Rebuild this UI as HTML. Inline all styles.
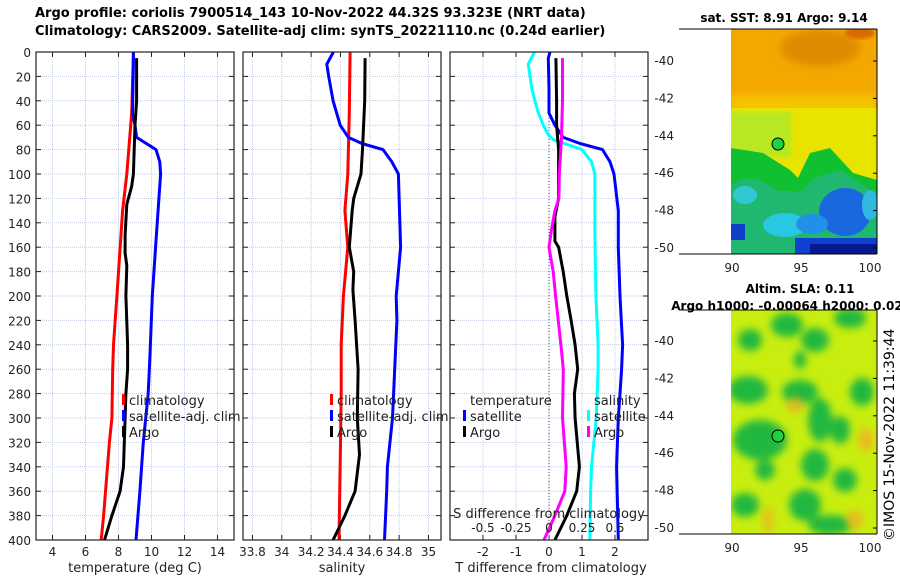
<!DOCTYPE html>
<html><head><meta charset="utf-8"><style>
html,body{margin:0;padding:0;background:#fff;}
svg{display:block;font-family:"DejaVu Sans","Liberation Sans",sans-serif;}
</style></head><body>
<svg id="fig" width="900" height="580" viewBox="0 0 900 580" xmlns="http://www.w3.org/2000/svg">
<defs>
<filter id="blur4" x="-20%" y="-20%" width="140%" height="140%"><feGaussianBlur stdDeviation="4"/></filter>
<filter id="blur2"><feGaussianBlur stdDeviation="1.5"/></filter>
<clipPath id="clipSST"><rect x="731" y="29" width="146" height="225"/></clipPath>
<clipPath id="clipSLA"><rect x="731" y="310" width="146" height="224"/></clipPath>
</defs>
<text x="35" y="17" font-size="13" font-weight="bold">Argo profile: coriolis 7900514_143 10-Nov-2022 44.32S 93.323E (NRT data)</text>
<text x="35" y="35" font-size="13" font-weight="bold">Climatology: CARS2009. Satellite-adj clim: synTS_20221110.nc (0.24d earlier)</text>

<g id="p1"></g>
<g id="p2"></g>
<g id="p3"></g>

<!-- SST map -->
<g>
<text x="784" y="22" font-size="12" font-weight="bold" text-anchor="middle">sat. SST: 8.91 Argo: 9.14</text>
<g clip-path="url(#clipSST)">
<rect x="731" y="29" width="146" height="225" fill="#f3a800"/>
<ellipse cx="820" cy="48" rx="40" ry="18" fill="#e08a00" filter="url(#blur4)"/>
<ellipse cx="860" cy="33" rx="15" ry="6" fill="#d86a00" filter="url(#blur2)"/>
<rect x="731" y="95" width="146" height="20" fill="#f5c400" filter="url(#blur4)"/>
<rect x="731" y="108" width="146" height="150" fill="#e8e400"/>
<rect x="731" y="112" width="60" height="45" fill="#b8e820" filter="url(#blur2)"/>
<path d="M731,148 L763,153 L790,170 L798,178 L810,153 L830,148 L853,173 L877,180 L877,254 L731,254 Z" fill="#10c030"/>
<path d="M731,185 Q755,170 775,190 L800,192 L815,178 L840,170 L870,190 L877,192 L877,254 L731,254 Z" fill="#20b870"/>
<ellipse cx="745" cy="195" rx="12" ry="9" fill="#30c8d0"/>
<ellipse cx="785" cy="225" rx="22" ry="12" fill="#28c8e0"/>
<ellipse cx="845" cy="212" rx="26" ry="24" fill="#1a68e0"/>
<ellipse cx="870" cy="205" rx="8" ry="15" fill="#30b8e0"/>
<ellipse cx="812" cy="224" rx="16" ry="10" fill="#2090e8"/>
<rect x="795" y="238" width="82" height="16" fill="#1040d0"/>
<rect x="810" y="244" width="67" height="10" fill="#081890"/>
<rect x="731" y="224" width="14" height="16" fill="#1040c8"/>
<circle cx="778" cy="144" r="6" fill="#20d040" stroke="#000" stroke-width="1"/>
</g>
<line x1="679" y1="254" x2="877" y2="254" stroke="#000"/>
<line x1="877" y1="29" x2="877" y2="254" stroke="#000"/>
<line x1="679" y1="29" x2="877" y2="29" stroke="#000"/>
<g id="sstTicks"></g>
</g>

<!-- SLA map -->
<g>
<text x="800" y="293" font-size="12" font-weight="bold" text-anchor="middle">Altim. SLA: 0.11</text>
<text x="787" y="310" font-size="12" font-weight="bold" text-anchor="middle">Argo h1000: -0.00064 h2000: 0.02</text>
<g clip-path="url(#clipSLA)">
<rect x="731" y="310" width="146" height="224" fill="#c8ee10"/>
<g fill="#20b840" filter="url(#blur4)">
<ellipse cx="787" cy="325" rx="16" ry="12"/><ellipse cx="850" cy="318" rx="16" ry="10"/>
<ellipse cx="750" cy="340" rx="12" ry="11"/><ellipse cx="815" cy="340" rx="14" ry="12"/>
<ellipse cx="748" cy="390" rx="20" ry="14"/><ellipse cx="800" cy="392" rx="18" ry="12"/>
<ellipse cx="862" cy="392" rx="12" ry="14"/><ellipse cx="820" cy="420" rx="12" ry="22"/>
<ellipse cx="760" cy="440" rx="27" ry="20"/><ellipse cx="815" cy="465" rx="14" ry="16"/>
<ellipse cx="840" cy="430" rx="10" ry="14"/><ellipse cx="845" cy="480" rx="12" ry="12"/>
<ellipse cx="745" cy="505" rx="14" ry="12"/><ellipse cx="805" cy="505" rx="16" ry="16"/>
<ellipse cx="830" cy="525" rx="22" ry="10"/><ellipse cx="800" cy="360" rx="6" ry="9"/>
<ellipse cx="765" cy="470" rx="10" ry="10"/>
</g>
<g fill="#f0b020" filter="url(#blur4)" opacity="0.8">
<ellipse cx="866" cy="440" rx="8" ry="12"/><ellipse cx="768" cy="520" rx="5" ry="14"/>
<ellipse cx="795" cy="405" rx="8" ry="8"/><ellipse cx="855" cy="520" rx="8" ry="10"/>
</g>
<circle cx="778" cy="436" r="6" fill="#20d040" stroke="#000" stroke-width="1"/>
</g>
<line x1="679" y1="534" x2="877" y2="534" stroke="#000"/>
<line x1="877" y1="310" x2="877" y2="534" stroke="#000"/>
<line x1="679" y1="310" x2="877" y2="310" stroke="#000"/>
<g id="slaTicks"></g>
</g>
<text transform="translate(894,541) rotate(-90)" font-size="14">©IMOS 15-Nov-2022 11:39:44</text>
</svg>
<script>
// ---- data ----
const depthTicks = [0,20,40,60,80,100,120,140,160,180,200,220,240,260,280,300,320,340,360,380,400];
const tempTicks = [4,6,8,10,12,14];
const salTicks = [33.8,34,34.2,34.4,34.6,34.8,35];
const salTickLabels = ["33.8","34","34.2","34.4","34.6","34.8","35"];
const diffTTicks = [-2,-1,0,1,2];
const diffSTicks = [-0.5,-0.25,0,0.25,0.5];
const diffSTickLabels = ["-0.5","-0.25","0","0.25","0.5"];

const tClimDepth = [0,50,100,130,200,240,260,300,320,380,400];
const tClimVal   = [8.9,8.8,8.5,8.25,7.9,7.7,7.65,7.6,7.45,7.1,6.95];
const tSatDepth = [0,10,50,60,70,80,90,100,150,200,250,280,320,360,400];
const tSatVal   = [8.9,8.9,8.85,9.0,9.1,10.27,10.5,10.55,10.3,10.05,9.9,9.8,9.5,9.3,9.06];
const tArgoDepth = [5,20,40,60,80,100,110,120,125,150,165,175,200,240,260,280,300,340,360,380,400];
const tArgoVal   = [9.1,9.1,9.1,9.0,8.95,8.9,8.8,8.6,8.5,8.4,8.4,8.5,8.45,8.55,8.55,8.45,8.4,8.3,8.1,7.6,7.15];

const sClimDepth = [0,50,100,130,160,200,240,280,320,400];
const sClimVal   = [34.466,34.46,34.45,34.43,34.45,34.42,34.405,34.405,34.4,34.39];
const sSatDepth = [0,10,20,40,60,70,75,80,90,100,160,200,220,260,300,340,360,400];
const sSatVal   = [34.352,34.307,34.32,34.35,34.398,34.454,34.546,34.69,34.75,34.795,34.81,34.78,34.785,34.77,34.755,34.72,34.715,34.7];
const sArgoDepth = [5,40,80,100,120,130,160,180,195,220,260,300,330,360,380,400];
const sArgoVal   = [34.568,34.565,34.55,34.54,34.49,34.48,34.46,34.49,34.485,34.5,34.52,34.515,34.53,34.5,34.43,34.35];

const dTSatDepth = [0,5,30,50,60,70,75,80,90,100,130,160,200,240,260,280,300,340,400];
const dTSatVal   = [0.03,-0.02,0,0,0.18,0.43,0.94,1.62,1.85,1.97,2.1,2.1,2.15,2.23,2.2,2.15,2.1,2.05,2.1];
const dTArgoDepth = [5,40,60,80,100,120,135,155,160,180,200,220,240,260,280,300,340,360,380,400];
const dTArgoVal   = [0.21,0.23,0.23,0.29,0.29,0.29,0.18,0.18,0.29,0.43,0.54,0.67,0.79,0.87,0.77,0.79,0.92,0.84,0.54,0.18];
const dSSatDepth = [0,10,30,40,50,60,68,72,80,90,100,150,200,240,260,300,340,360,400];
const dSSatVal   = [-0.11,-0.157,-0.13,-0.107,-0.08,-0.043,-0.005,0.033,0.25,0.322,0.348,0.348,0.355,0.372,0.372,0.358,0.322,0.315,0.31];
const dSArgoDepth = [5,40,70,100,120,130,145,160,180,200,240,260,300,340,360,380,400];
const dSArgoVal   = [0.102,0.102,0.095,0.078,0.075,0.045,0.02,0,0.032,0.05,0.09,0.108,0.102,0.13,0.12,0.045,-0.038];

const latTicks = [-40,-42,-44,-46,-48,-50];
const lonTicks = [90,95,100];

// ---- drawing ----
const NS = "http://www.w3.org/2000/svg";
function mk(tag, attrs, parent){const e=document.createElementNS(NS,tag);for(const k in attrs)e.setAttribute(k,attrs[k]);parent.appendChild(e);return e;}
const TOP=52, BOT=540;
const yD = d => TOP + (BOT-TOP)*d/400;

function panel(g, x0, x1, xmin, xmax, name){
  const xs = v => x0 + (x1-x0)*(v-xmin)/(xmax-xmin);
  depthTicks.forEach(d=>{
    const y=yD(d);
    const gl=mk('line',{x1:x0,x2:x1,y1:y,y2:y,stroke:'#c4cbe0','stroke-width':1,'stroke-dasharray':'1,1'},g);
    
    
    mk('line',{x1:x0,x2:x0+5,y1:y,y2:y,stroke:'#222'},g);
    mk('line',{x1:x1-5,x2:x1,y1:y,y2:y,stroke:'#222'},g);
  });
  return xs;
}
function xgrid(g, xs, ticks, labels){
  ticks.forEach((t,i)=>{
    const x=xs(t);
    const gl=mk('line',{x1:x,x2:x,y1:TOP,y2:BOT,stroke:'#c4cbe0','stroke-width':1,'stroke-dasharray':'1,1'},g);
    
    
    mk('line',{x1:x,x2:x,y1:BOT-5,y2:BOT,stroke:'#222'},g);
    mk('line',{x1:x,x2:x,y1:TOP,y2:TOP+5,stroke:'#222'},g);
    const tx=mk('text',{x:x,y:BOT+16,'font-size':12,'text-anchor':'middle',fill:'#222'},g);
    tx.textContent = labels ? labels[i] : String(t);
    
    
  });
}
function frame(g,x0,x1){ mk('rect',{x:x0,y:TOP,width:x1-x0,height:BOT-TOP,fill:'none',stroke:'#222','stroke-width':1.2},g); }
function line(g, xs, depths, vals, color, name, scale){
  const pts = depths.map((d,i)=> xs(vals[i]*(scale||1)).toFixed(1)+','+yD(d).toFixed(1)).join(' ');
  const p=mk('polyline',{points:pts,fill:'none',stroke:color,'stroke-width':3,'stroke-linejoin':'round'},g);
  
  
}
function legend(g, x, y, items){
  items.forEach((it,i)=>{
    const yy=y+i*16;
    if(it[0]) mk('rect',{x:x,y:yy-6,width:3,height:11,fill:it[0]},g);
    const t=mk('text',{x:x+7,y:yy+5,'font-size':13,fill:'#222'},g);
    t.textContent=it[1];
    
    
  });
}

// panel 1
const g1=document.getElementById('p1');
mk('rect',{x:36,y:TOP,width:198,height:BOT-TOP,fill:'#fff'},g1);
const xs1=panel(g1,36,234,3,15,'temperature');
xgrid(g1,xs1,tempTicks);
depthTicks.forEach(d=>{
  const t=mk('text',{x:31,y:yD(d)+5,'font-size':12,'text-anchor':'end',fill:'#222'},g1);
  t.textContent=String(d);
  
  
});
line(g1,xs1,tClimDepth,tClimVal,'#ff0000','temp-climatology-line');
line(g1,xs1,tSatDepth,tSatVal,'#0000ff','temp-satellite-line');
line(g1,xs1,tArgoDepth,tArgoVal,'#000','temp-argo-line');
frame(g1,36,234);
legend(g1,122,400,[['#ff0000','climatology'],['#0000ff','satellite-adj. clim'],['#000','Argo']]);
let t=mk('text',{x:135,y:572,'font-size':13,'text-anchor':'middle',fill:'#222'},g1);t.textContent='temperature (deg C)';



// panel 2
const g2=document.getElementById('p2');
const xs2=panel(g2,243,441,33.7355,35.0855,'salinity');
xgrid(g2,xs2,salTicks,salTickLabels);
line(g2,xs2,sClimDepth,sClimVal,'#ff0000','sal-climatology-line');
line(g2,xs2,sSatDepth,sSatVal,'#0000ff','sal-satellite-line');
line(g2,xs2,sArgoDepth,sArgoVal,'#000','sal-argo-line');
frame(g2,243,441);
legend(g2,330,400,[['#ff0000','climatology'],['#0000ff','satellite-adj. clim'],['#000','Argo']]);
t=mk('text',{x:342,y:572,'font-size':13,'text-anchor':'middle',fill:'#222'},g2);t.textContent='salinity';



// panel 3
const g3=document.getElementById('p3');
const xs3=panel(g3,450,648,-3,3,'difference');
xgrid(g3,xs3,diffTTicks);
mk('line',{x1:xs3(0),x2:xs3(0),y1:TOP,y2:BOT,stroke:'#555','stroke-dasharray':'1,2'},g3);
line(g3,xs3,dSSatDepth,dSSatVal,'#00ffff','sdiff-satellite-line',4);
line(g3,xs3,dTSatDepth,dTSatVal,'#0000ff','tdiff-satellite-line');
line(g3,xs3,dTArgoDepth,dTArgoVal,'#000','tdiff-argo-line');
line(g3,xs3,dSArgoDepth,dSArgoVal,'#ff00ff','sdiff-argo-line',4);
frame(g3,450,648);
legend(g3,463,400,[[null,'temperature'],['#0000ff','satellite'],['#000','Argo']]);
legend(g3,587,400,[[null,'salinity'],['#00ffff','satellite'],['#ff00ff','Argo']]);
t=mk('text',{x:549,y:518,'font-size':13,'text-anchor':'middle',fill:'#222'},g3);t.textContent='S difference from climatology';


diffSTicks.forEach((s,i)=>{
  const tt=mk('text',{x:xs3(s*4),y:532,'font-size':12,'text-anchor':'middle',fill:'#222'},g3);
  tt.textContent=diffSTickLabels[i];
  
  
});
t=mk('text',{x:551,y:572,'font-size':13,'text-anchor':'middle',fill:'#222'},g3);t.textContent='T difference from climatology';



// map ticks
function mapTicks(gid, latY0, bottom){
  const g=document.getElementById(gid);
  latTicks.forEach(l=>{
    const y=latY0 + (-40-l)*18.7;
    const tx=mk('text',{x:674,y:y+4,'font-size':12,'text-anchor':'end',fill:'#222'},g);
    tx.textContent=String(l);
    
    
    mk('line',{x1:873,x2:877,y1:y,y2:y,stroke:'#000'},g);
  });
  lonTicks.forEach(l=>{
    const x=732+(l-90)*13.8;
    const tx=mk('text',{x:x,y:bottom+18,'font-size':12,'text-anchor':'middle',fill:'#222'},g);
    tx.textContent=String(l);
    
    
  });
}
mapTicks('sstTicks',61,254);
mapTicks('slaTicks',341,534);
</script>
</body></html>
